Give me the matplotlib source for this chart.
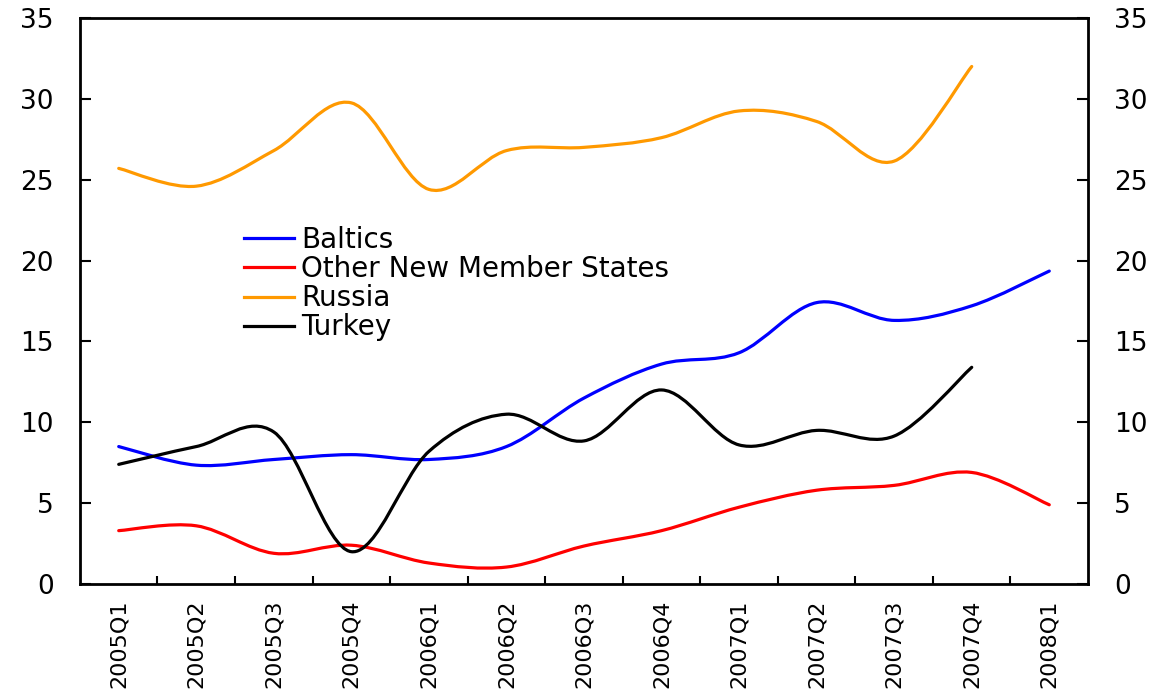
import matplotlib.pyplot as plt
from matplotlib.path import Path
from matplotlib.patches import PathPatch
from matplotlib.lines import Line2D

plt.rcParams['font.family'] = ['DejaVu Sans']

quarters = ['2005Q1', '2005Q2', '2005Q3', '2005Q4', '2006Q1', '2006Q2', '2006Q3',
            '2006Q4', '2007Q1', '2007Q2', '2007Q3', '2007Q4', '2008Q1']
baltics = [8.5, 7.35, 7.7, 8.0, 7.7, 8.5, 11.5, 13.6, 14.3, 17.4, 16.3, 17.2, 19.35]
other_nms = [3.3, 3.6, 1.9, 2.4, 1.3, 1.05, 2.35, 3.3, 4.75, 5.8, 6.1, 6.9, 4.9]
russia = [25.7, 24.6, 26.8, 29.75, 24.4, 26.8, 27.0, 27.6, 29.25, 28.6, 26.15, 32.0]
turkey = [7.4, 8.5, 9.4, 2.0, 8.2, 10.5, 8.85, 12.0, 8.6, 9.5, 9.15, 13.4]

series = [('Baltics', baltics, '#0000FF'),
          ('Other New Member States', other_nms, '#FF0000'),
          ('Russia', russia, '#FF9900'),
          ('Turkey', turkey, '#000000')]


def smooth_path(ys):
    # Catmull-Rom curve through the points, written as cubic Bezier segments
    pts = list(zip(range(len(ys)), ys))
    verts = [pts[0]]
    codes = [Path.MOVETO]
    n = len(pts)
    for i in range(n - 1):
        p0 = pts[max(i - 1, 0)]
        p1 = pts[i]
        p2 = pts[i + 1]
        p3 = pts[min(i + 2, n - 1)]
        c1 = (p1[0] + (p2[0] - p0[0]) / 6, p1[1] + (p2[1] - p0[1]) / 6)
        c2 = (p2[0] - (p3[0] - p1[0]) / 6, p2[1] - (p3[1] - p1[1]) / 6)
        verts += [c1, c2, p2]
        codes += [Path.CURVE4] * 3
    return Path(verts, codes)


fig = plt.figure(figsize=(11.57, 6.91), dpi=100)
ax = fig.add_axes([0.0691, 0.1548, 0.8713, 0.8192])

handles = []
for name, vals, col in series:
    ax.add_patch(PathPatch(smooth_path(vals), facecolor='none', edgecolor=col,
                           lw=2.3, capstyle='round', joinstyle='round'))
    handles.append(Line2D([], [], color=col, lw=2.3, label=name))

ax.set_xlim(-0.5, len(quarters) - 0.5)
ax.set_ylim(0, 35)
ax.set_yticks(range(0, 36, 5))

ax.set_xticks([i + 0.5 for i in range(len(quarters) - 1)])
ax.set_xticklabels([])
ax.set_xticks(range(len(quarters)), minor=True)
ax.set_xticklabels(quarters, minor=True, rotation=90, va='top', ha='center')
ax.tick_params(axis='x', which='major', direction='in', length=6, width=1.5)
ax.tick_params(axis='x', which='minor', length=0, pad=11, labelsize=16)
ax.tick_params(axis='y', direction='in', length=8, width=1.5, right=True,
               labelright=True, labelsize=19, pad=19)
for s in ax.spines.values():
    s.set_linewidth(2)

ax.legend(handles=handles, loc='upper left', bbox_to_anchor=(0.149, 0.657),
          frameon=False, fontsize=20, handlelength=1.8, handletextpad=0.25,
          labelspacing=0.04, borderpad=0)

fig.savefig('out.png', dpi=100)
